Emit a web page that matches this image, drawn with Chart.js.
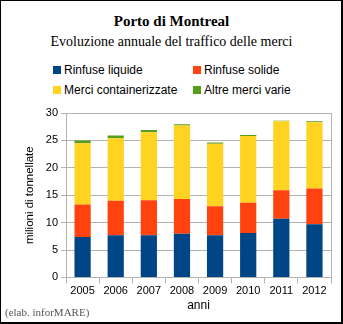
<!DOCTYPE html>
<html>
<head>
<meta charset="utf-8">
<script src="https://cdn.jsdelivr.net/npm/chart.js@4/dist/chart.umd.min.js"></script>
<style>
    html, body { margin: 0; padding: 0; background: #fff; }
    #frame {
        position: relative; width: 343px; height: 324px; box-sizing: border-box;
        border: 1px solid #000; border-right-width: 2px; border-bottom-width: 2px;
        overflow: hidden; background: #fff;
    }
    .title { position: absolute; left: 0; width: 341px; top: 12px; text-align: center;
        font: bold 15px "Liberation Serif", serif; color: #000; }
    .subtitle { position: absolute; left: 0; width: 341px; top: 33px; text-align: center;
        font: 14px "Liberation Serif", serif; color: #000; }
    .legend { position: absolute; left: 52px; top: 60px; width: 290px;
        font: 12px "Liberation Sans", Arial, sans-serif; color: #000; }
    .legend .item { position: absolute; white-space: nowrap; line-height: 14px; }
    .legend .box { display: inline-block; width: 8px; height: 8px; margin-right: 3px; vertical-align: 0; }
    .source { position: absolute; left: 4px; top: 305px;
        font: 11px "Liberation Serif", serif; color: #555; }
    #wrap { position: absolute; left: 0; top: 100px; width: 341px; height: 212px; }
</style>
</head>
<body>
<div id="frame">
    <div class="title">Porto di Montreal</div>
    <div class="subtitle">Evoluzione annuale del traffico delle merci</div>
    <div class="legend" id="legend"></div>
    <div id="wrap"><canvas id="chart"></canvas></div>
    <div class="source">(elab. inforMARE)</div>
</div>
<script>
(function () {
    'use strict';

    var years = ['2005', '2006', '2007', '2008', '2009', '2010', '2011', '2012'];
    var rinfuseLiquide = [7.35, 7.7, 7.7, 7.95, 7.7, 8.1, 10.7, 9.7];
    var rinfuseSolide = [5.95, 6.3, 6.4, 6.35, 5.3, 5.5, 5.2, 6.5];
    var merciContainer = [11.2, 11.4, 12.4, 13.4, 11.4, 12.2, 12.6, 12.1];
    var altreMerci = [0.5, 0.5, 0.4, 0.25, 0.2, 0.2, 0.1, 0.2];
    var yTicks = [0, 5, 10, 15, 20, 25, 30];

    var series = [
        { label: 'Rinfuse liquide', data: rinfuseLiquide, color: '#004586' },
        { label: 'Rinfuse solide', data: rinfuseSolide, color: '#ff420e' },
        { label: 'Merci containerizzate', data: merciContainer, color: '#ffd320' },
        { label: 'Altre merci varie', data: altreMerci, color: '#579d1c' }
    ];

    // legend in a fixed 2x2 grid like the original
    var legend = document.getElementById('legend');
    series.forEach(function (s, i) {
        var el = document.createElement('div');
        el.className = 'item';
        el.style.left = (i % 2 ? 140 : 0) + 'px';
        el.style.top = (i < 2 ? 2 : 22) + 'px';
        el.innerHTML = '<span class="box" style="background:' + s.color + '"></span>' + s.label;
        legend.appendChild(el);
    });

    var gridColor = '#b3b3b3';
    var sans = '"Liberation Sans", Arial, sans-serif';

    var frameBorder = {
        id: 'frameBorder',
        afterDraw: function (chart) {
            var a = chart.chartArea, ctx = chart.ctx;
            ctx.save();
            ctx.strokeStyle = gridColor;
            ctx.lineWidth = 1;
            ctx.beginPath();
            ctx.moveTo(Math.round(a.right) + 0.5, a.top);
            ctx.lineTo(Math.round(a.right) + 0.5, a.bottom + 6);
            ctx.stroke();
            ctx.restore();
        }
    };

    new Chart(document.getElementById('chart'), {
        type: 'bar',
        data: {
            labels: years,
            datasets: series.map(function (s) {
                return {
                    label: s.label,
                    data: s.data,
                    backgroundColor: s.color,
                    borderWidth: 0,
                    barPercentage: 0.98,
                    categoryPercentage: 0.5
                };
            })
        },
        options: {
            responsive: true,
            maintainAspectRatio: false,
            animation: false,
            layout: { padding: { top: 12, right: 11, left: 16, bottom: 0 } },
            plugins: {
                legend: { display: false },
                tooltip: { enabled: false }
            },
            scales: {
                x: {
                    stacked: true,
                    grid: { offset: true, drawOnChartArea: false, color: gridColor, tickLength: 6 },
                    border: { color: gridColor },
                    ticks: { color: '#000', font: { family: sans, size: 11 }, padding: 1, maxRotation: 0 },
                    title: { display: true, text: 'anni', color: '#000', font: { family: sans, size: 12 }, padding: 0 }
                },
                y: {
                    stacked: true,
                    min: 0,
                    max: 30,
                    afterBuildTicks: function (axis) {
                        axis.ticks = yTicks.map(function (v) { return { value: v }; });
                    },
                    grid: { color: gridColor, tickLength: 5 },
                    border: { color: gridColor },
                    ticks: { color: '#000', font: { family: sans, size: 11 }, padding: 3 },
                    title: { display: true, text: 'milioni di tonnellate', color: '#000', font: { family: sans, size: 11.5 }, padding: 6 }
                }
            }
        },
        plugins: [frameBorder]
    });
}());
</script>
</body>
</html>
